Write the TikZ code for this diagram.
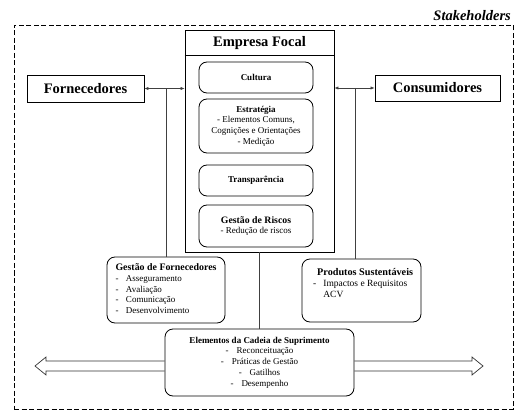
\documentclass[tikz,border=0pt]{standalone}
\usepackage{fontspec}
\setmainfont{Liberation Serif}
\usetikzlibrary{arrows.meta}
\begin{document}
\begin{tikzpicture}[x=1pt,y=-1pt,
  sq/.style={draw,line width=0.8pt,inner sep=0pt},
  rbox/.style={draw,line width=0.8pt,rounded corners=8pt,inner sep=0pt,align=center,font=\fontsize{9}{10.7}\selectfont},
  conn/.style={line width=0.45pt,black!75},
  smallarr/.style={conn,{Latex[length=4pt,width=3.2pt]}-{Latex[length=4pt,width=3.2pt]}},
  biga/.style={draw,line width=0.7pt,black!80,line join=miter},
  big/.style={font=\fontsize{14.5}{16}\selectfont\bfseries,inner sep=0pt}
]
\useasboundingbox (0,0) rectangle (522,417);

% stakeholders dashed frame
\node[sq,dashed,dash pattern=on 5pt off 2.5pt,minimum width=499pt,minimum height=384pt] (stake) at (263.5,217) {};
\node[font=\fontsize{14.5}{16}\selectfont\bfseries\itshape,anchor=south east,inner sep=0pt] (stt) at (511,21) {Stakeholders};

% focal company
\node[sq,minimum width=149pt,minimum height=222pt] (emp) at (259.5,141) {};
\node[big] (empt) at (259.5,43) {Empresa Focal};
\coordinate (hl) at (0,55.7);
\draw[line width=0.8pt] (emp.west |- hl) -- (emp.east |- hl);

\node[rbox,minimum width=114pt,minimum height=31pt] (cul) at (256,77.5) {\textbf{Cultura}};
\node[rbox,minimum width=114pt,minimum height=54pt] (est) at (256,126) {\textbf{Estratégia}\\- Elementos Comuns,\\Cognições e Orientações\\- Medição};
\node[rbox,minimum width=114pt,minimum height=31pt] (tra) at (256,180.5) {\textbf{Transparência}};
\node[rbox,minimum width=114pt,minimum height=42pt] (ris) at (256,226) {{\fontsize{9.8}{10.7}\selectfont\textbf{Gestão de Riscos}}\\- Redução de riscos};

% suppliers / consumers
\node[sq,minimum width=117pt,minimum height=27pt] (for) at (85.5,88.5) {};
\node[big] (fort) at (for.center) {Fornecedores};
\node[sq,minimum width=125pt,minimum height=26pt] (con) at (437.5,88) {};
\node[big] (cont) at (con.center) {Consumidores};

\draw[smallarr] (for.east) -- (for.east -| emp.west);
\draw[smallarr] (emp.east |- con.west) -- (con.west);

% supplier management
\node[rbox,minimum width=118pt,minimum height=66pt] (gf) at (166,290) {%
\begin{tabular}{@{}l@{\hspace{7.5pt}}l@{}}
\multicolumn{2}{@{}l@{}}{\fontsize{9.9}{10.7}\selectfont\textbf{Gestão de Fornecedores}}\\
- & Asseguramento\\
- & Avaliação\\
- & Comunicação\\
- & Desenvolvimento
\end{tabular}};

% sustainable products
\node[rbox,minimum width=119pt,minimum height=63pt] (ps) at (361.5,290.5) {};
\node[inner sep=0pt,anchor=north west,font=\fontsize{9.5}{10.7}\selectfont] (pst) at (313,268) {%
\begin{tabular}{@{}l@{\hspace{7pt}}l@{}}
\multicolumn{2}{@{}l@{}}{\hspace{4pt}\fontsize{10.2}{10.7}\selectfont\textbf{Produtos Sustentáveis}}\\
- & Impactos e Requisitos\\
  & ACV
\end{tabular}};

% supply chain elements
\node[rbox,minimum width=189pt,minimum height=67pt] (ele) at (259.5,362.5) {\textbf{Elementos da Cadeia de Suprimento}\\
-\hspace{8pt}Reconceituação\\
-\hspace{8pt}Práticas de Gestão\\
-\hspace{8pt}Gatilhos\\
-\hspace{8pt}Desempenho};

% vertical connectors
\draw[conn] (gf.north) -- (gf.north |- for.east);
\coordinate (pj) at (355,88);
\draw[conn] (pj) -- (pj |- ps.north);
\draw[conn] (emp.south) -- (ele.north);

% big hollow arrows
\coordinate (lt) at (35,366);
\coordinate (rt) at (483,366);
\draw[biga] (ele.west |- 0,361) -- (46,361) -- (46,357) -- (lt) -- (46,375) -- (46,371) -- (ele.west |- 0,371);
\draw[biga] (ele.east |- 0,361) -- (472,361) -- (472,357) -- (rt) -- (472,375) -- (472,371) -- (ele.east |- 0,371);
\end{tikzpicture}
\end{document}
